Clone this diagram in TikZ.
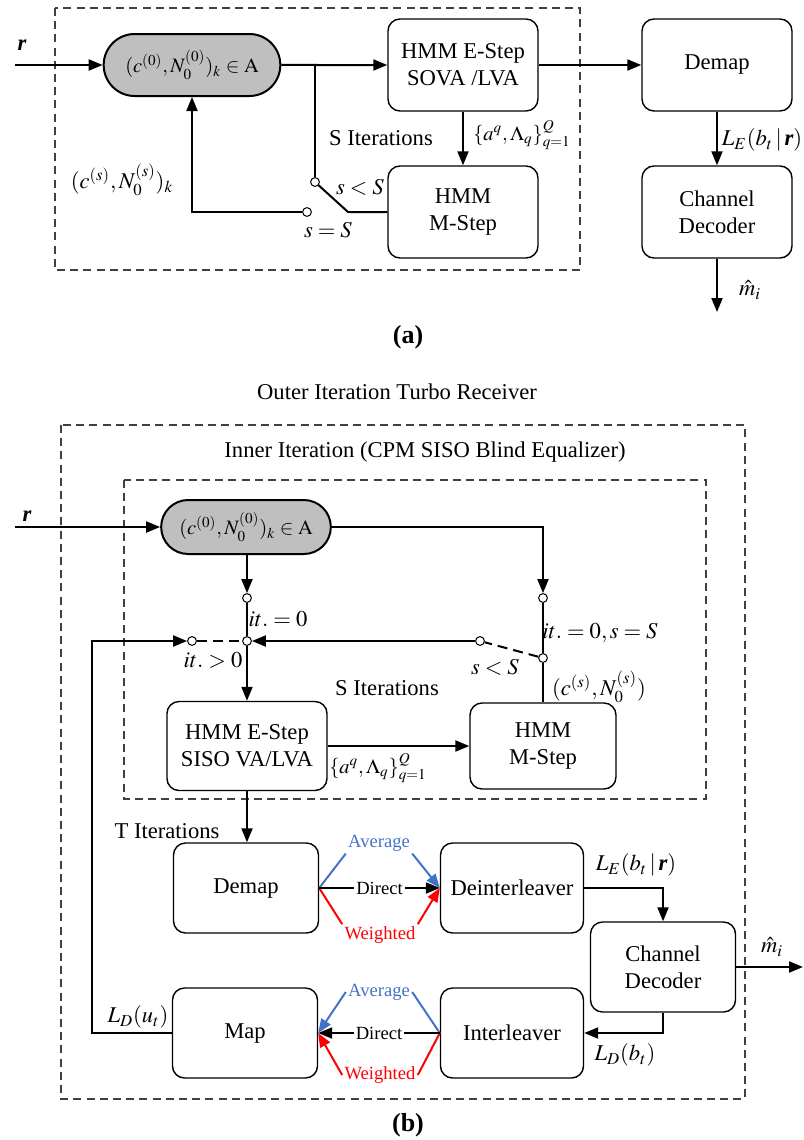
\documentclass[tikz,border=0pt]{standalone}
\usepackage{mathptmx}
\usepackage{fontspec}
\setmainfont{Liberation Serif}
\usetikzlibrary{arrows.meta,shapes.misc,positioning}
\definecolor{pillgray}{RGB}{191,191,191}
\definecolor{avgblue}{RGB}{68,114,196}
\definecolor{wgtred}{RGB}{255,0,0}
\definecolor{dashgray}{RGB}{64,64,64}
\tikzstyle{arrow} = [line width=1pt,->,>={Triangle[length=7pt,width=5.5pt]}]
\tikzstyle{wire} = [line width=1pt]
\tikzset{block/.style={draw,rounded corners=6pt,align=center,fill=white,line width=0.7pt,minimum width=72.5pt,minimum height=45pt},
  pill/.style={draw,rounded rectangle,fill=pillgray,line width=1pt,font=\fontsize{10.2}{12}\selectfont},
  sw/.style={circle,draw,fill=white,inner sep=0pt,minimum size=4.4pt,line width=0.5pt},
  dashbox/.style={draw=dashgray,line width=0.7pt,dash pattern=on 4pt off 2.6pt},
  small/.style={font=\fontsize{9.3}{11}\selectfont,inner sep=1pt},
  mth/.style={font=\fontsize{10.2}{12}\selectfont,inner sep=1pt},
  figcap/.style={font=\fontsize{13}{15}\selectfont\bfseries}}

\begin{document}
\begin{tikzpicture}[x=0.5pt,y=-0.5pt,font=\fontsize{11.3}{13.5}\selectfont]
    \useasboundingbox (0,0) rectangle (803,1140);

    % (a) blind equalizer
    \draw[dashbox] (55,8) rectangle (580,270);
    \node [pill, minimum width=95pt, minimum height=31pt] (initA) at (192,65) {$(c^{(0)},N_0^{(0)})_k\in\mathrm{A}$};
    \node [block, minimum width=75pt, minimum height=46pt] (estepA) at (463,65) {HMM E-Step\\SOVA /LVA};
    \node [block, minimum width=75pt, minimum height=46pt] (mstepA) at (463,212) {HMM\\M-Step};
    \node [block, minimum width=75pt, minimum height=46pt] (demapA) at (717,65) {Demap};
    \node [block, minimum width=75pt, minimum height=46pt] (decA) at (717,212) {Channel\\Decoder};
    \node [sw] (swA1) at (315,182) {};
    \node [sw] (swA2) at (307,212) {};
    \coordinate (inA) at (15,65);
    \coordinate (brA) at (315,65);
    \coordinate (kneeA) at (348,212);
    \coordinate (outA) at (717,312);

    \draw[arrow] (inA) -- (initA);
    \draw[arrow] (initA) -- (estepA);
    \draw[wire] (brA) -- (swA1);
    \draw[wire] (swA1) -- (kneeA) -- (mstepA);
    \draw[arrow] (swA2) -| (initA.south);
    \draw[arrow] (estepA) -- (mstepA);
    \draw[arrow] (estepA) -- (demapA);
    \draw[arrow] (demapA) -- (decA);
    \draw[arrow] (decA) -- (outA);

    \node (rA) at (22,45) {\textbf{\textit{r}}};
    \node (csA) at (122,180) {$(c^{(s)},N_0^{(s)})_k$};
    \node (sltA) at (360,187) {$s<S$};
    \node (seqA) at (328,230) {$s=S$};
    \node (sitA) at (381,138) {S Iterations};
    \node [mth] (aqA) at (522,135) {$\{a^q,\Lambda_q\}_{q=1}^{Q}$};
    \node [inner sep=1pt] (leA) at (762,140) {$L_E(b_t\,|\,\textbf{\textit{r}})$};
    \node [inner sep=1pt] (mhA) at (750,290) {$\hat{m}_i$};
    \node [figcap] (capA) at (408,337) {(a)};

    % (b) turbo receiver
    \node (outerB) at (397,392) {Outer Iteration Turbo Receiver};
    \draw[dashbox] (61,425) rectangle (745,1099);
    \node (innerB) at (425,452) {Inner Iteration (CPM SISO Blind Equalizer)};
    \draw[dashbox] (124,480) rectangle (706,799);

    \node [pill, minimum width=91.5pt, minimum height=27pt] (initB) at (246,527) {$(c^{(0)},N_0^{(0)})_k\in\mathrm{A}$};
    \node [block, minimum width=80pt, minimum height=44.5pt] (estepB) at (247,746) {HMM E-Step\\SISO VA/LVA};
    \node [block, minimum width=73pt, minimum height=43pt] (mstepB) at (543,746) {HMM\\M-Step};
    \node [block] (demapB) at (246,888) {Demap};
    \node [block, minimum width=71.5pt] (deintB) at (512,888) {Deinterleaver};
    \node [block] (decB) at (663,967) {Channel\\Decoder};
    \node [block] (mapB) at (245,1033) {Map};
    \node [block, minimum width=71.5pt] (intB) at (512,1033) {Interleaver};

    \node [sw] (swB1) at (247,598) {};
    \node [sw] (jB) at (247,641) {};
    \node [sw] (swB2) at (192,641) {};
    \node [sw] (swB3) at (543,598) {};
    \node [sw] (swB4) at (543,658) {};
    \node [sw] (swB5) at (480,641) {};
    \coordinate (inB) at (15,527);
    \coordinate (retB) at (92,1033);
    \coordinate (outB) at (803,967);

    \draw[arrow] (inB) -- (initB);
    \draw[arrow] (initB.south -| swB1) -- (swB1);
    \draw[wire] (swB1) -- (jB);
    \draw[arrow] (jB) -- (estepB);
    \draw[arrow] (initB.east) -| (swB3);
    \draw[wire] (swB3) -- (swB4);
    \draw[wire] (swB4) -- (mstepB);
    \draw[wire, dash pattern=on 5pt off 3pt] (swB4) -- (swB5);
    \draw[arrow] (swB5) -- (jB);
    \draw[wire, dash pattern=on 5pt off 3pt] (swB2) -- (jB);
    \draw[arrow] (mapB) -- (retB) |- (swB2);
    \draw[arrow] (estepB) -- (mstepB);
    \draw[arrow] (estepB.south) -- (estepB.south |- demapB.north);
    \draw[arrow] (deintB.east) -| (decB.north);
    \draw[arrow] (decB.south) |- (intB.east);
    \draw[arrow] (decB) -- (outB);

    % Average / Direct / Weighted combining
    \node [small, text=avgblue] (avgD) at (379,843) {Average};
    \node [small, text=wgtred] (wgtD) at (380,935) {Weighted};
    \node [small, text=avgblue] (avgM) at (379,992) {Average};
    \node [small, text=wgtred] (wgtM) at (380,1075) {Weighted};
    \draw[wire, avgblue] (demapB.east) -- (avgD.south west);
    \draw[arrow, avgblue] (avgD.south east) -- (deintB.west);
    \draw[wire, wgtred] (demapB.east) -- (wgtD.north west);
    \draw[arrow, wgtred] (wgtD.north east) -- (deintB.west);
    \draw[arrow] (demapB) -- node[small, fill=white] (dirD) {Direct} (deintB);
    \draw[wire, avgblue] (intB.west) -- (avgM.east);
    \draw[arrow, avgblue] (avgM.west) -- (mapB.east);
    \draw[wire, wgtred] (intB.west) -- (wgtM.east);
    \draw[arrow, wgtred] (wgtM.west) -- (mapB.east);
    \draw[arrow] (intB) -- node[small, fill=white] (dirM) {Direct} (mapB);

    \node (rB) at (27,516) {\textbf{\textit{r}}};
    \node (it0B) at (278,619) {$it.=0$};
    \node (itgB) at (213,660) {$it.>0$};
    \node (itsB) at (600,633) {$it.=0,s=S$};
    \node (sltB) at (495,667) {$s<S$};
    \node (csB) at (599,687) {$(c^{(s)},N_0^{(s)})$};
    \node (sitB) at (387,688) {S Iterations};
    \node [mth] (aqB) at (378,768) {$\{a^q,\Lambda_q\}_{q=1}^{Q}$};
    \node (titB) at (167,831) {T Iterations};
    \node (ldB) at (138,1017) {$L_D(u_t)$};
    \node (leB) at (636,865) {$L_E(b_t\,|\,\textbf{\textit{r}})$};
    \node (lbB) at (625,1055) {$L_D(b_t)$};
    \node [inner sep=1pt] (mhB) at (772,947) {$\hat{m}_i$};
    \node [figcap] (capB) at (408,1125) {(b)};
\end{tikzpicture}
\end{document}
